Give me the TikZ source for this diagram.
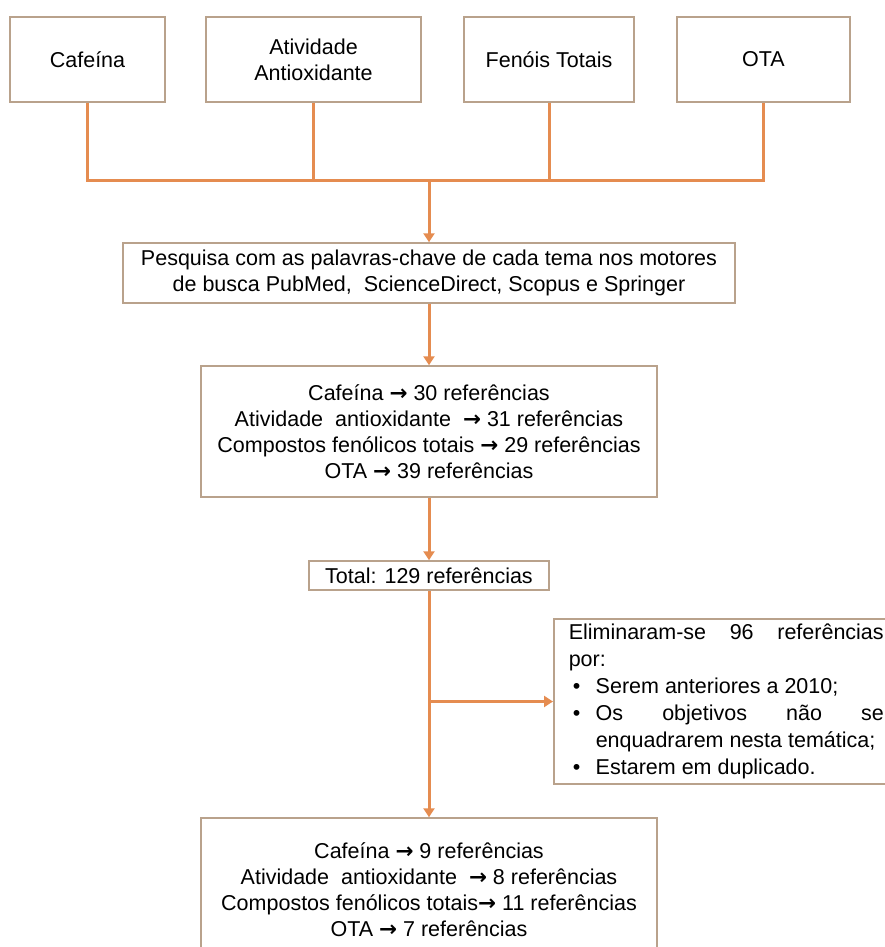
\documentclass[tikz,border=0pt]{standalone}
\usepackage{fontspec}
\setmainfont{Liberation Sans}
\newfontfamily\setafont{DejaVu Sans}
\usetikzlibrary{arrows.meta}
\definecolor{laranja}{RGB}{229,140,80}
\definecolor{borda}{RGB}{185,162,140}
\newcommand{\seta}{{\setafont\bfseries →}}
\newcommand{\marca}{\makebox[27pt][l]{\hspace{4pt}•}}

\begin{document}
\begin{tikzpicture}[x=1pt,y=-1pt,
  caixa/.style={draw=borda, line width=1.5pt, fill=white, align=center, inner sep=0pt,
    font=\fontsize{21.5}{26}\selectfont},
  linha/.style={draw=laranja, line width=3pt},
  ponta/.style={linha, -{Triangle[length=9pt,width=11pt]}}]
\useasboundingbox (0,0) rectangle (885,947);
\node[caixa, minimum width=155pt, minimum height=85pt] (caf) at (87.5,59.5) {Cafeína};
\node[caixa, minimum width=215pt, minimum height=85pt] (ativ) at (313.5,59.5) {Atividade\\Antioxidante};
\node[caixa, minimum width=170pt, minimum height=85pt] (fen) at (549,59.5) {Fenóis Totais};
\node[caixa, minimum width=173pt, minimum height=85pt] (ota) at (763.5,59.5) {OTA};
\coordinate (junta) at (429,180);
\node[caixa, minimum width=612pt, minimum height=60pt] (pesq) at (429,273)
  {Pesquisa com as palavras-chave de cada tema nos motores\\de busca PubMed,\ \ ScienceDirect, Scopus e Springer};
\node[caixa, minimum width=456pt, minimum height=131pt] (res1) at (429,431.5)
  {Cafeína \seta{} 30 referências\\Atividade\ \ antioxidante\ \ \seta{} 31 referências\\Compostos fenólicos totais \seta{} 29 referências\\OTA \seta{} 39 referências};
\node[caixa, minimum width=240pt, minimum height=29pt] (total) at (429,575.5) {Total: 129 referências};
\node[caixa, anchor=west, minimum height=165pt, inner xsep=15pt, text width=315pt, align=justify,
  font=\fontsize{21.5}{27}\selectfont] (elim) at (553,701.5)
  {\parindent=0pt Eliminaram-se 96 referências\linebreak por:\par
   \hangindent=27pt\hangafter=1\marca Serem anteriores a 2010;\par
   \hangindent=27pt\hangafter=1\marca Os objetivos não se\linebreak enquadrarem nesta temática;\par
   \hangindent=27pt\hangafter=1\marca Estarem em duplicado.};
\node[caixa, minimum width=456pt, minimum height=144pt] (res2) at (429,890)
  {Cafeína \seta{} 9 referências\\Atividade\ \ antioxidante\ \ \seta{} 8 referências\\Compostos fenólicos totais\seta{} 11 referências\\OTA \seta{} 7 referências};
\draw[linha] (caf.south) |- (junta) -| (ota.south);
\draw[linha] (ativ.south) -- (ativ.south |- junta);
\draw[linha] (fen.south) -- (fen.south |- junta);
\draw[ponta] (junta) -- (pesq.north);
\draw[ponta] (pesq.south) -- (res1.north);
\draw[ponta] (res1.south) -- (total.north);
\draw[ponta] (total.south) -- (res2.north);
\draw[ponta] (total.south |- elim.west) -- (elim.west);
\end{tikzpicture}
\end{document}
